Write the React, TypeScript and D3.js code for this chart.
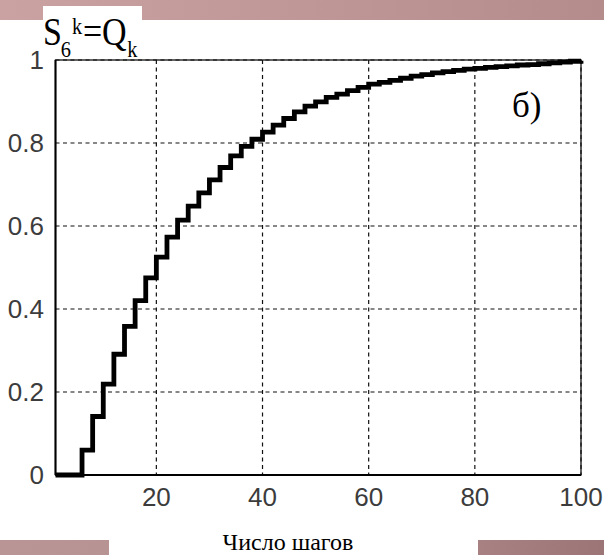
import React from "react";
import * as d3 from "d3";

// step positions (number of steps k) and Q_k values
const stepK = [1, 6, 8, 10, 12, 14, 16, 18, 20, 22, 24, 26, 28, 30, 32, 34, 36, 38, 40,
  42, 44, 46, 48, 50, 52, 54, 56, 58, 60, 62, 64, 66, 68, 70, 72, 74, 76, 78, 80,
  82, 84, 86, 88, 90, 92, 94, 96, 98, 100];
const stepQ = [0, 0.06, 0.141, 0.219, 0.291, 0.358, 0.42, 0.475, 0.525, 0.573, 0.614, 0.648, 0.68, 0.711, 0.741, 0.769, 0.792, 0.809, 0.826,
  0.843, 0.859, 0.875, 0.889, 0.899, 0.91, 0.918, 0.926, 0.934, 0.942, 0.946, 0.951, 0.956, 0.961, 0.965, 0.969, 0.972, 0.975, 0.978, 0.98,
  0.982, 0.984, 0.986, 0.988, 0.989, 0.991, 0.993, 0.995, 0.997, 0.998];

const xTicks = [20, 40, 60, 80, 100];
const yTicks = [0, 0.2, 0.4, 0.6, 0.8, 1];

const W = 604, H = 555;
const plot = { left: 55.5, right: 581, top: 60, bottom: 475 };

export default function App() {
  const xScale = d3.scaleLinear().domain([1, 100]).range([plot.left, plot.right]);
  const yScale = d3.scaleLinear().domain([0, 1]).range([plot.bottom, plot.top]);

  const pts: [number, number][] = stepK.map((k, i) => [k, stepQ[i]]);
  const line = d3
    .line<[number, number]>()
    .x(d => xScale(d[0]))
    .y(d => yScale(d[1]))
    .curve(d3.curveStepAfter);

  const serif = "'Liberation Serif', 'Times New Roman', serif";
  const sans = "'Liberation Sans', Arial, sans-serif";

  return (
    <svg width={W} height={H} style={{ position: "absolute", left: 0, top: 0, background: "#fff" }}>
      <defs>
        <linearGradient id="topband" x1="0" x2="1" y1="0" y2="0">
          <stop offset="0" stopColor="#caa2a2" />
          <stop offset="1" stopColor="#b48c8c" />
        </linearGradient>
        <linearGradient id="botleft" x1="0" x2="1" y1="0" y2="0">
          <stop offset="0" stopColor="#b99595" />
          <stop offset="1" stopColor="#b89393" />
        </linearGradient>
        <linearGradient id="botright" x1="0" x2="1" y1="0" y2="0">
          <stop offset="0" stopColor="#a88282" />
          <stop offset="1" stopColor="#9c7676" />
        </linearGradient>
      </defs>

      {/* slide decoration */}
      <rect x={0} y={0} width={W} height={20} fill="url(#topband)" />
      <rect x={43} y={6} width={99} height={14} fill="#fff" />
      <rect x={0} y={540} width={109} height={15} fill="url(#botleft)" />
      <rect x={478} y={540} width={126} height={15} fill="url(#botright)" />

      {/* grid */}
      {xTicks.map(t => (
        <line key={"gx" + t} x1={xScale(t)} x2={xScale(t)} y1={plot.top} y2={plot.bottom}
          stroke="#111" strokeWidth={1.2} strokeDasharray="4,3.5" />
      ))}
      {yTicks.map(t => (
        <line key={"gy" + t} x1={plot.left} x2={plot.right} y1={yScale(t)} y2={yScale(t)}
          stroke="#111" strokeWidth={1.2} strokeDasharray="4,3.5" />
      ))}

      {/* frame */}
      <rect x={plot.left} y={plot.top} width={plot.right - plot.left} height={plot.bottom - plot.top}
        fill="none" stroke="#111" strokeWidth={1.3} />
      <line x1={plot.left} x2={plot.left} y1={plot.top} y2={plot.bottom} stroke="#000" strokeWidth={2} />
      <line x1={plot.left} x2={plot.right} y1={plot.bottom} y2={plot.bottom} stroke="#000" strokeWidth={2} />

      {/* stairs */}
      <path d={line(pts) || ""} fill="none" stroke="#000" strokeWidth={4.8} strokeLinejoin="miter" />

      {/* tick labels */}
      {yTicks.map(t => (
        <text key={"ly" + t} x={44} y={yScale(t)} dy="0.36em" textAnchor="end"
          fontFamily={sans} fontSize={26} fill="#3c3c3c">{t === 0 || t === 1 ? String(t) : d3.format(".1f")(t)}</text>
      ))}
      {xTicks.map(t => (
        <text key={"lx" + t} x={xScale(t)} y={497} dy="0.36em" textAnchor="middle"
          fontFamily={sans} fontSize={26} fill="#3c3c3c">{t}</text>
      ))}

      {/* y title S_6^k = Q_k */}
      <text transform="translate(43,0) scale(0.85,1)" fontFamily={serif} fill="#000">
        <tspan x={0} y={45} fontSize={40}>S</tspan>
        <tspan x={21} y={57} fontSize={24}>6</tspan>
        <tspan x={34} y={34} fontSize={24}>k</tspan>
        <tspan x={47} y={45} fontSize={40}>=Q</tspan>
        <tspan x={99} y={57} fontSize={24}>k</tspan>
      </text>

      <text x={512} y={117} fontFamily={serif} fontSize={35} fill="#000">б)</text>
      <text x={288} y={550} textAnchor="middle" fontFamily={serif} fontSize={24} fill="#000">Число шагов</text>
    </svg>
  );
}
